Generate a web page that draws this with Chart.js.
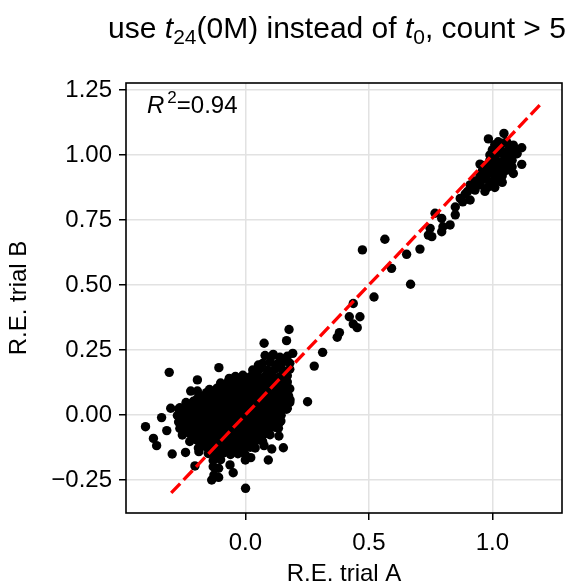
<!DOCTYPE html>
<html>
<head>
<meta charset="utf-8">
<script src="https://cdn.jsdelivr.net/npm/chart.js@4.4.1/dist/chart.umd.min.js"></script>
<style>
  body { margin: 0; background: #fff; }
  canvas { display: block; }
</style>
</head>
<body>
<canvas id="chart" width="576" height="584"></canvas>
<script>
// tick values
const xTicks = [0.0, 0.5, 1.0];
const yTicks = [-0.25, 0.0, 0.25, 0.5, 0.75, 1.0, 1.25];

// y = x reference line
const fitLine = [[-0.3, -0.3], [1.2, 1.2]];

// dense cluster around 0
const lowCluster = [
    [0.11, 0.228], [0.14, 0.222], [0.17, 0.226],
    [0.07, 0.198], [0.10, 0.203], [0.13, 0.197], [0.155, 0.205], [0.18, 0.199],
    [0.03, 0.173], [0.06, 0.178], [0.09, 0.172], [0.12, 0.177], [0.15, 0.174], [0.18, 0.176],
    [-0.04, 0.148], [-0.01, 0.153], [0.02, 0.147], [0.05, 0.152], [0.08, 0.149], [0.11, 0.153], [0.14, 0.147], [0.17, 0.151],
    [-0.10, 0.123], [-0.07, 0.128], [-0.04, 0.122], [-0.01, 0.127], [0.02, 0.124], [0.05, 0.128], [0.08, 0.122], [0.11, 0.126], [0.14, 0.123], [0.17, 0.127],
    [-0.145, 0.098], [-0.115, 0.103], [-0.085, 0.097], [-0.055, 0.102], [-0.025, 0.099], [0.005, 0.103], [0.035, 0.097], [0.065, 0.101], [0.095, 0.098], [0.125, 0.102], [0.155, 0.097], [0.18, 0.101],
    [-0.185, 0.073], [-0.155, 0.078], [-0.125, 0.072], [-0.095, 0.077], [-0.065, 0.074], [-0.035, 0.078], [-0.005, 0.072], [0.025, 0.076], [0.055, 0.073], [0.085, 0.077], [0.115, 0.072], [0.145, 0.076], [0.175, 0.074],
    [-0.24, 0.048], [-0.21, 0.053], [-0.18, 0.047], [-0.15, 0.052], [-0.12, 0.049], [-0.09, 0.053], [-0.06, 0.047], [-0.03, 0.051], [0.0, 0.048], [0.03, 0.052], [0.06, 0.047], [0.09, 0.051], [0.12, 0.049], [0.15, 0.053], [0.18, 0.048],
    [-0.27, 0.023], [-0.24, 0.028], [-0.21, 0.022], [-0.18, 0.027], [-0.15, 0.024], [-0.12, 0.028], [-0.09, 0.022], [-0.06, 0.026], [-0.03, 0.023], [0.0, 0.027], [0.03, 0.022], [0.06, 0.026], [0.09, 0.024], [0.12, 0.028], [0.15, 0.022], [0.17, 0.026],
    [-0.275, -0.002], [-0.245, 0.003], [-0.215, -0.003], [-0.185, 0.002], [-0.155, -0.001], [-0.125, 0.003], [-0.095, -0.003], [-0.065, 0.001], [-0.035, -0.002], [-0.005, 0.002], [0.025, -0.003], [0.055, 0.001], [0.085, -0.002], [0.115, 0.003], [0.145, -0.001],
    [-0.27, -0.027], [-0.24, -0.022], [-0.21, -0.028], [-0.18, -0.023], [-0.15, -0.026], [-0.12, -0.022], [-0.09, -0.028], [-0.06, -0.024], [-0.03, -0.027], [0.0, -0.023], [0.03, -0.028], [0.06, -0.024], [0.09, -0.026], [0.12, -0.022], [0.14, -0.027],
    [-0.265, -0.052], [-0.235, -0.047], [-0.205, -0.053], [-0.175, -0.048], [-0.145, -0.051], [-0.115, -0.047], [-0.085, -0.053], [-0.055, -0.049], [-0.025, -0.052], [0.005, -0.048], [0.035, -0.053], [0.065, -0.049], [0.095, -0.051], [0.12, -0.047],
    [-0.255, -0.077], [-0.225, -0.072], [-0.195, -0.078], [-0.165, -0.073], [-0.135, -0.076], [-0.105, -0.072], [-0.075, -0.078], [-0.045, -0.074], [-0.015, -0.077], [0.015, -0.073], [0.045, -0.078], [0.075, -0.074], [0.10, -0.076],
    [-0.225, -0.102], [-0.195, -0.097], [-0.165, -0.103], [-0.135, -0.098], [-0.105, -0.101], [-0.075, -0.097], [-0.045, -0.103], [-0.015, -0.099], [0.015, -0.102], [0.045, -0.098], [0.07, -0.101],
    [-0.19, -0.127], [-0.16, -0.122], [-0.13, -0.128], [-0.10, -0.123], [-0.07, -0.126], [-0.04, -0.122], [-0.01, -0.128], [0.02, -0.124], [0.04, -0.127],
    [-0.15, -0.148], [-0.12, -0.153], [-0.09, -0.147], [-0.06, -0.152], [-0.03, -0.149], [0.0, -0.153],
    [-0.13, -0.175], [-0.10, -0.172], [-0.13, -0.199], [-0.108, -0.205], [-0.127, -0.231], [-0.136, -0.25], [-0.108, -0.24]
];

// more points packed inside the low cluster
const lowCore = [
    [-0.025, 0.138], [0.005, 0.136], [0.035, 0.139], [0.065, 0.137], [0.095, 0.138], [0.125, 0.136], [0.155, 0.139],
    [-0.085, 0.112], [-0.055, 0.114], [-0.025, 0.111], [0.005, 0.113], [0.035, 0.112], [0.065, 0.114], [0.095, 0.111], [0.125, 0.113], [0.155, 0.112],
    [-0.13, 0.088], [-0.10, 0.086], [-0.07, 0.089], [-0.04, 0.087], [-0.01, 0.088], [0.02, 0.086], [0.05, 0.089], [0.08, 0.087], [0.11, 0.088], [0.14, 0.086], [0.165, 0.089],
    [-0.195, 0.062], [-0.165, 0.064], [-0.135, 0.061], [-0.105, 0.063], [-0.075, 0.062], [-0.045, 0.064], [-0.015, 0.061], [0.015, 0.063], [0.045, 0.062], [0.075, 0.064], [0.105, 0.061], [0.135, 0.063], [0.165, 0.062],
    [-0.225, 0.038], [-0.195, 0.036], [-0.165, 0.039], [-0.135, 0.037], [-0.105, 0.038], [-0.075, 0.036], [-0.045, 0.039], [-0.015, 0.037], [0.015, 0.038], [0.045, 0.036], [0.075, 0.039], [0.105, 0.037], [0.135, 0.038], [0.165, 0.036],
    [-0.255, 0.012], [-0.225, 0.014], [-0.195, 0.011], [-0.165, 0.013], [-0.135, 0.012], [-0.105, 0.014], [-0.075, 0.011], [-0.045, 0.013], [-0.015, 0.012], [0.015, 0.014], [0.045, 0.011], [0.075, 0.013], [0.105, 0.012], [0.135, 0.014],
    [-0.255, -0.012], [-0.225, -0.014], [-0.195, -0.011], [-0.165, -0.013], [-0.135, -0.012], [-0.105, -0.014], [-0.075, -0.011], [-0.045, -0.013], [-0.015, -0.012], [0.015, -0.014], [0.045, -0.011], [0.075, -0.013], [0.105, -0.012], [0.125, -0.014],
    [-0.25, -0.038], [-0.22, -0.036], [-0.19, -0.039], [-0.16, -0.037], [-0.13, -0.038], [-0.10, -0.036], [-0.07, -0.039], [-0.04, -0.037], [-0.01, -0.038], [0.02, -0.036], [0.05, -0.039], [0.08, -0.037], [0.11, -0.038],
    [-0.24, -0.062], [-0.21, -0.064], [-0.18, -0.061], [-0.15, -0.063], [-0.12, -0.062], [-0.09, -0.064], [-0.06, -0.061], [-0.03, -0.063], [0.0, -0.062], [0.03, -0.064], [0.06, -0.061], [0.09, -0.063],
    [-0.21, -0.088], [-0.18, -0.086], [-0.15, -0.089], [-0.12, -0.087], [-0.09, -0.088], [-0.06, -0.086], [-0.03, -0.089], [0.0, -0.087], [0.03, -0.088], [0.06, -0.086],
    [-0.18, -0.112], [-0.15, -0.114], [-0.12, -0.111], [-0.09, -0.113], [-0.06, -0.112], [-0.03, -0.114], [0.0, -0.111], [0.03, -0.113],
    [-0.14, -0.138], [-0.11, -0.136], [-0.08, -0.139], [-0.05, -0.137], [-0.02, -0.138], [-0.01, -0.136]
];

// scattered points around the low cluster
const lowOutliers = [
    [-0.404, -0.045], [-0.339, -0.010], [-0.318, -0.060], [-0.372, -0.090], [-0.359, -0.118],
    [-0.296, -0.150], [-0.242, -0.144], [-0.188, -0.141], [-0.204, -0.196], [-0.308, 0.164],
    [-0.194, 0.135], [-0.221, 0.092], [-0.194, 0.092], [-0.157, 0.086], [-0.107, 0.182],
    [-0.302, 0.026], [-0.265, 0.028], [-0.062, -0.192], [-0.049, -0.222], [0.001, -0.282],
    [0.0, -0.173], [0.022, -0.164], [0.093, -0.173], [0.076, -0.118], [0.107, -0.131],
    [0.154, -0.126], [0.136, -0.081], [0.134, -0.051], [0.144, -0.023], [0.116, -0.013],
    [0.167, 0.022], [0.181, 0.058], [0.177, 0.329], [0.167, 0.286], [0.076, 0.276],
    [0.080, 0.229], [0.113, 0.233], [0.053, 0.192], [0.192, 0.237], [-0.065, 0.141]
];

// points between the two clusters
const midPoints = [
    [0.252, 0.051], [0.279, 0.188], [0.313, 0.241], [0.372, 0.299], [0.381, 0.317],
    [0.421, 0.378], [0.464, 0.378], [0.437, 0.350], [0.453, 0.336], [0.437, 0.429],
    [0.521, 0.454], [0.474, 0.635], [0.565, 0.676], [0.592, 0.564], [0.653, 0.618],
    [0.669, 0.503], [0.707, 0.638], [0.741, 0.692], [0.755, 0.686], [0.748, 0.718],
    [0.768, 0.776], [0.795, 0.756], [0.800, 0.724], [0.795, 0.705], [0.829, 0.731],
    [0.85, 0.77], [0.85, 0.80], [0.87, 0.833]
];

// cluster around 1
const highCluster = [
    [1.01, 1.04], [1.04, 1.045], [1.07, 1.035],
    [1.00, 1.02], [1.03, 1.025], [1.06, 1.015], [1.09, 1.02],
    [0.99, 1.00], [1.02, 1.005], [1.05, 0.995], [1.08, 1.00], [1.10, 1.005],
    [0.99, 0.98], [1.02, 0.975], [1.05, 0.985], [1.08, 0.98],
    [0.97, 0.96], [1.00, 0.965], [1.03, 0.955], [1.06, 0.96], [1.08, 0.955],
    [0.96, 0.94], [0.99, 0.945], [1.02, 0.935], [1.05, 0.94],
    [0.95, 0.92], [0.98, 0.925], [1.01, 0.915], [1.04, 0.92],
    [0.93, 0.90], [0.96, 0.905], [0.99, 0.895], [1.02, 0.90], [1.04, 0.895],
    [0.92, 0.88], [0.95, 0.885], [0.98, 0.875], [1.01, 0.875],
    [0.90, 0.86], [0.93, 0.865], [0.97, 0.86],
    [1.035, 1.01], [1.065, 0.99], [1.005, 0.99], [1.035, 0.97], [1.065, 0.97],
    [0.985, 0.955], [1.015, 0.945], [0.975, 0.935], [1.005, 0.93], [0.965, 0.915],
    [0.984, 1.062], [1.047, 1.083], [1.024, 1.051], [1.058, 1.051], [1.085, 1.038],
    [1.119, 1.028], [1.099, 1.006], [1.119, 0.964], [1.085, 0.929], [1.058, 0.942],
    [0.950, 0.965], [0.964, 0.942], [0.910, 0.885], [0.910, 0.827], [0.89, 0.85], [0.88, 0.82]
];

const FONT = '"Liberation Sans", Arial, Helvetica, sans-serif';

function toXY(list) {
    return list.map(p => ({ x: p[0], y: p[1] }));
}

function fmtTick(v, digits) {
    const s = Math.abs(v).toFixed(digits);
    return v < 0 ? '\u2212' + s : s;
}

// title, R^2 label and frame
const extras = {
    id: 'extras',
    afterDraw(chart) {
        const ctx = chart.ctx;
        const area = chart.chartArea;
        ctx.save();
        ctx.fillStyle = '#000';
        ctx.textBaseline = 'alphabetic';

        // title with subscripts
        const parts = [
            { t: 'use ', f: '30px ' + FONT, dy: 0 },
            { t: 't', f: 'italic 30px ' + FONT, dy: 0 },
            { t: '24', f: '21px ' + FONT, dy: 6 },
            { t: '(0M) instead of ', f: '30px ' + FONT, dy: 0 },
            { t: 't', f: 'italic 30px ' + FONT, dy: 0 },
            { t: '0', f: '21px ' + FONT, dy: 6 },
            { t: ', count > 5', f: '30px ' + FONT, dy: 0 }
        ];
        let total = 0;
        parts.forEach(p => { ctx.font = p.f; p.w = ctx.measureText(p.t).width; total += p.w; });
        let x = 337 - total / 2;
        const base = 38;
        parts.forEach(p => {
            ctx.font = p.f;
            ctx.fillText(p.t, x, base + p.dy);
            x += p.w;
        });

        // R^2 annotation
        let rx = 147;
        const rb = 113;
        ctx.font = 'italic 24px ' + FONT;
        ctx.fillText('R', rx, rb);
        rx += ctx.measureText('R').width + 3;
        ctx.font = '17px ' + FONT;
        ctx.fillText('2', rx, rb - 10);
        rx += ctx.measureText('2').width;
        ctx.font = '24px ' + FONT;
        ctx.fillText('=0.94', rx, rb);

        // frame
        ctx.strokeStyle = '#000';
        ctx.lineWidth = 1.6;
        ctx.strokeRect(area.left, area.top, area.right - area.left, area.bottom - area.top);
        ctx.restore();
    }
};

const pointStyle = {
    backgroundColor: '#000',
    borderWidth: 0,
    pointRadius: 4.7,
    pointHoverRadius: 4.7,
    order: 1
};

new Chart(document.getElementById('chart'), {
    type: 'scatter',
    data: {
        datasets: [
            {
                data: toXY(fitLine),
                showLine: true,
                borderColor: '#ff0000',
                borderWidth: 3.3,
                borderDash: [13, 5],
                pointRadius: 0,
                fill: false,
                order: 0
            },
            Object.assign({ data: toXY(lowCluster) }, pointStyle),
            Object.assign({ data: toXY(lowCore) }, pointStyle),
            Object.assign({ data: toXY(lowOutliers) }, pointStyle),
            Object.assign({ data: toXY(midPoints) }, pointStyle),
            Object.assign({ data: toXY(highCluster) }, pointStyle)
        ]
    },
    options: {
        responsive: false,
        animation: false,
        layout: { padding: { top: 83, right: 14, left: 0, bottom: 0 } },
        plugins: {
            legend: { display: false },
            tooltip: { enabled: false }
        },
        scales: {
            x: {
                type: 'linear',
                min: -0.483,
                max: 1.282,
                afterBuildTicks: s => { s.ticks = xTicks.map(v => ({ value: v })); },
                afterFit: s => { s.height = 71; },
                border: { display: false },
                grid: { color: '#e2e2e2', lineWidth: 1.5, tickColor: '#000', tickLength: 7, tickWidth: 1.5 },
                ticks: {
                    color: '#000',
                    padding: 9,
                    font: { size: 24, family: FONT },
                    callback: v => fmtTick(v, 1)
                },
                title: {
                    display: true,
                    text: 'R.E. trial A',
                    color: '#000',
                    font: { size: 24, family: FONT },
                    padding: { top: 0, bottom: -5 }
                }
            },
            y: {
                type: 'linear',
                min: -0.377,
                max: 1.277,
                afterBuildTicks: s => { s.ticks = yTicks.map(v => ({ value: v })); },
                afterFit: s => { s.width = 126; },
                border: { display: false },
                grid: { color: '#e2e2e2', lineWidth: 1.5, tickColor: '#000', tickLength: 7, tickWidth: 1.5 },
                ticks: {
                    color: '#000',
                    padding: 7,
                    font: { size: 24, family: FONT },
                    callback: v => fmtTick(v, 2)
                },
                title: {
                    display: true,
                    text: 'R.E. trial B',
                    color: '#000',
                    font: { size: 24, family: FONT },
                    padding: { top: 5, bottom: 0 }
                }
            }
        }
    },
    plugins: [extras]
});
</script>
</body>
</html>
